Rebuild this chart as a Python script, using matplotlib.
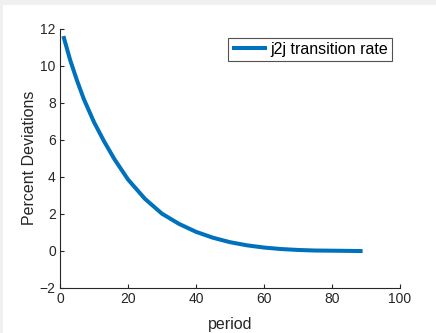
import matplotlib
matplotlib.use("Agg")
import matplotlib.pyplot as plt
from matplotlib.patches import Rectangle

# values
period = [1, 3, 5, 7, 10, 13, 16, 20, 25, 30, 35, 40, 45, 50, 55, 60, 65, 70, 75, 80, 85, 89]
j2j = [11.6, 10.3, 9.2, 8.2, 6.95, 5.9, 4.95, 3.85, 2.8, 2.0, 1.45, 1.02, 0.7, 0.46,
       0.29, 0.17, 0.09, 0.04, 0.01, 0.0, -0.01, -0.02]
series_label = "j2j transition rate"
xticks = [0, 20, 40, 60, 80, 100]
yticks = [-2, 0, 2, 4, 6, 8, 10, 12]

plt.rcParams['font.family'] = ['Liberation Sans', 'DejaVu Sans']
axcol = '#262626'

W, H = 436, 333
fig = plt.figure(figsize=(W / 100, H / 100), dpi=100, facecolor='#f0f0f0')
# white figure area (grey frame shows at top and left edge)
bg = Rectangle((3 / W, 0), 1, 1 - 5 / H, transform=fig.transFigure,
               facecolor='white', edgecolor='none', zorder=-10)
fig.patches.append(bg)

ax = fig.add_axes([60 / W, 1 - 287.7 / H, 340 / W, 259 / H])
ax.set_zorder(1)
ax.set_facecolor('white')
ax.plot(period, j2j, color='#0072BD', lw=2.9, label=series_label,
        solid_capstyle='butt', solid_joinstyle='round')

ax.set_xlim(0, 100)
ax.set_ylim(-2, 12)
ax.set_xticks(xticks)
ax.set_yticks(yticks)
ax.spines['top'].set_visible(False)
ax.spines['right'].set_visible(False)
for s in ['left', 'bottom']:
    ax.spines[s].set_color(axcol)
    ax.spines[s].set_linewidth(0.8)
ax.tick_params(direction='in', length=3, width=0.8, colors=axcol, labelsize=10, pad=3)
ax.set_xlabel('period', fontsize=11.5, color=axcol, labelpad=8)
ax.set_ylabel('Percent Deviations', fontsize=11.5, color=axcol, labelpad=2)

leg = ax.legend(loc='upper right', bbox_to_anchor=(392 / W, 1 - 38 / H),
                bbox_transform=fig.transFigure, borderaxespad=0, fontsize=11.5,
                fancybox=False, frameon=True, handlelength=2.2, handletextpad=0.2,
                borderpad=0.25)
leg.get_frame().set_edgecolor('#262626')
leg.get_frame().set_linewidth(0.8)

fig.savefig('out.png', dpi=100, facecolor=fig.get_facecolor())
